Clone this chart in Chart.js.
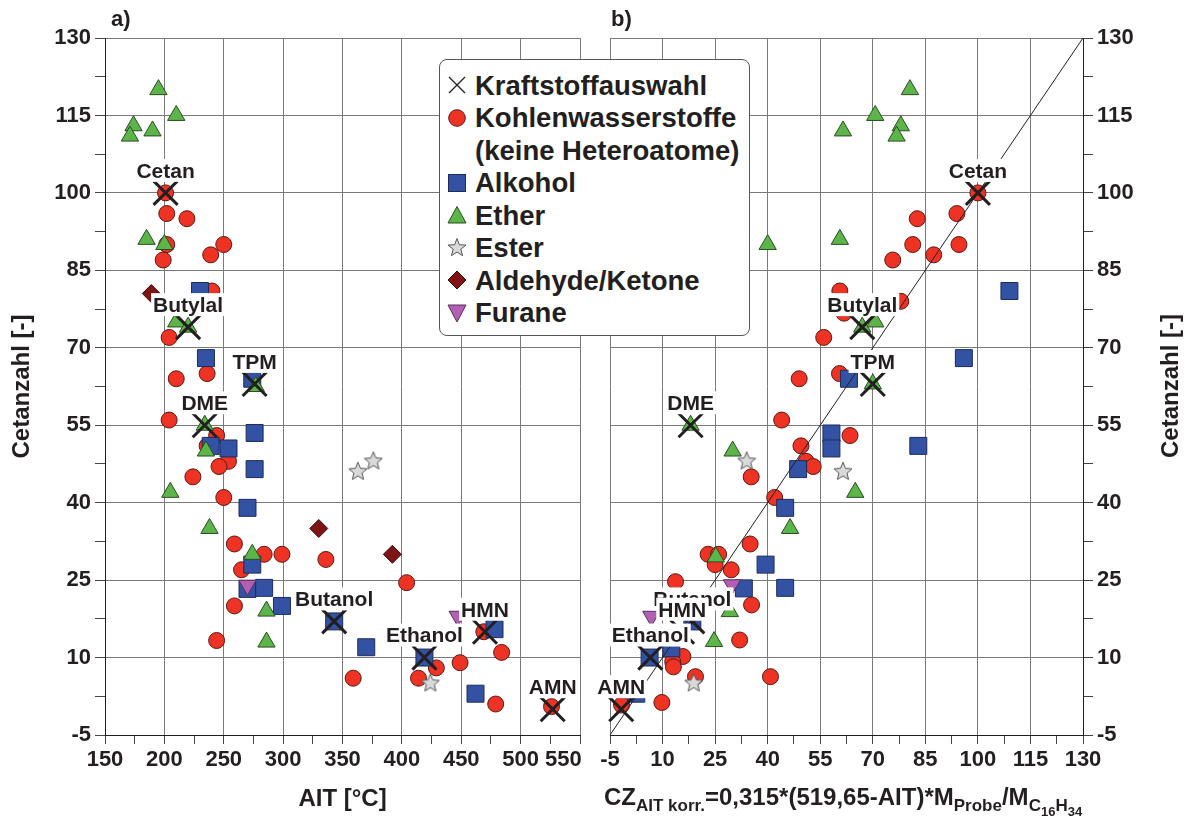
<!DOCTYPE html>
<html>
<head>
<meta charset="utf-8">
<script src="https://cdn.jsdelivr.net/npm/chart.js@4.4.1/dist/chart.umd.min.js"></script>
<style>
  html, body { margin: 0; padding: 0; background: #fff; }
  body { width: 1189px; height: 818px; position: relative; overflow: hidden;
         font-family: "Liberation Sans", Arial, sans-serif; color: #231f20; }
  canvas { position: absolute; top: 0; }
  #cvA { left: 0; }
  #cvB { left: 590px; }
  .panel { position: absolute; top: 6px; font-weight: bold; font-size: 22px; }
  #legend { position: absolute; left: 439px; top: 59px; width: 311px; height: 277px; box-sizing: border-box;
            border: 1px solid #555; border-radius: 8px; background: #fff; padding-top: 9px; }
  .li { display: flex; align-items: center; height: 32.5px; font-weight: bold; font-size: 27.5px;
        line-height: 1; white-space: nowrap; }
  .li svg { width: 22px; height: 22px; margin: 0 7px 0 6px; flex: none; }
  .li.cont { padding-left: 35px; }
  #xtitleB { position: absolute; left: 604px; top: 784px; font-weight: bold; font-size: 24px;
             line-height: 26px; white-space: nowrap; }
  #xtitleB sub { font-size: 17px; vertical-align: -6px; }
  #xtitleB sub sub { font-size: 13px; vertical-align: -5px; }
  #ytitleB { position: absolute; left: 1170px; top: 386px; font-weight: bold; font-size: 24px;
             white-space: nowrap; transform: translate(-50%, -50%) rotate(-90deg); }
</style>
</head>
<body>
<canvas id="cvA" width="600" height="818"></canvas>
<canvas id="cvB" width="599" height="818"></canvas>
<div class="panel" style="left:111px">a)</div>
<div class="panel" style="left:611px">b)</div>
<div id="ytitleB">Cetanzahl [-]</div>
<div id="xtitleB">CZ<sub>AIT korr.</sub>=0,315*(519,65-AIT)*M<sub>Probe</sub>/M<sub>C<sub>16</sub>H<sub>34</sub></sub></div>

<div id="legend">
  <div class="li"><svg viewBox="0 0 22 22"><path d="M3 3L19 19M19 3L3 19" stroke="#231f20" stroke-width="1.3"/></svg>Kraftstoffauswahl</div>
  <div class="li"><svg viewBox="0 0 22 22"><circle cx="11" cy="11" r="8.3" fill="#ee3224" stroke="#5a1a14"/></svg>Kohlenwasserstoffe</div>
  <div class="li cont">(keine Heteroatome)</div>
  <div class="li"><svg viewBox="0 0 22 22"><rect x="2.5" y="2.5" width="17" height="17" fill="#3352a4" stroke="#1e2c5a"/></svg>Alkohol</div>
  <div class="li"><svg viewBox="0 0 22 22"><polygon points="11,2.5 20,19 2,19" fill="#5cb548" stroke="#2a4d22"/></svg>Ether</div>
  <div class="li"><svg viewBox="0 0 22 22"><polygon points="11,1.5 13.35,7.76 20.04,8.06 14.8,12.24 16.58,18.69 11,15 5.42,18.69 7.2,12.24 1.96,8.06 8.65,7.76" fill="#d9d9d9" stroke="#555"/></svg>Ester</div>
  <div class="li"><svg viewBox="0 0 22 22"><polygon points="11,2 20,11 11,20 2,11" fill="#7d1416" stroke="#3d0a0a"/></svg>Aldehyde/Ketone</div>
  <div class="li"><svg viewBox="0 0 22 22"><polygon points="2,3 20,3 11,20" fill="#b35fb3" stroke="#5a2e5a"/></svg>Furane</div>
</div>

<script>
// ---- ticks ----
const aitTicks = [150, 200, 250, 300, 350, 400, 450, 500, 550];
const czTicks = [-5, 10, 25, 40, 55, 70, 85, 100, 115, 130];

// ---- Kraftstoffauswahl (labelled fuels) ----
const selNames = ['Cetan', 'Butylal', 'TPM', 'DME', 'Butanol', 'Ethanol', 'HMN', 'AMN'];
const selAit   = [201, 220, 276, 234, 343, 419, 470, 527];
const selCz    = [100, 74, 63, 55, 17, 10, 15, 0];
const selKorr  = [100, 67, 70, 18, 18.5, 6.5, 15.6, -1.8];

// ---- a) AIT vs. Cetanzahl ----
const kwAit = [201, 202, 219, 202, 199, 250, 239, 240, 204, 210, 236, 204, 244, 236, 254, 246, 224, 250,
               259, 284, 299, 265, 336, 404, 259, 244, 359, 429, 414, 449, 469, 484, 479, 526];
const kwCz  = [100, 96, 95, 90, 87, 90, 88, 81, 72, 64, 65, 56, 53, 51, 48, 47, 45, 41,
               32, 30, 30, 27, 29, 24.5, 20, 13.3, 6, 8, 6, 9, 15, 11, 1, 0.5];
const alkAit = [230, 235, 274, 276, 239, 254, 276, 270, 274, 270, 284, 299, 343, 370, 419, 478, 462];
const alkCz  = [81, 68, 64, 53.5, 51, 50.5, 46.5, 39, 28, 23.3, 23.5, 20, 17, 12, 10, 15.5, 3];
const etherAit = [195, 210, 174, 190, 171, 185, 200, 210, 220, 277, 234, 235, 205, 238, 274, 286, 286];
const etherCz  = [120, 115, 113, 112, 111, 91, 90, 75, 74, 62.5, 55, 50, 42, 35, 30, 19, 13];
const esterAit = [363, 376, 424];
const esterCz  = [46, 48, 5];
const aldAit = [189, 330, 392];
const aldCz  = [80.5, 35, 30];
const furAit = [270, 447];
const furCz  = [24, 18];

// ---- b) korrigierte CZ vs. Cetanzahl ----
const kwKorr   = [100, 94, 82.7, 81.4, 94.6, 87.4, 75.7, 60.6, 78, 61.8, 56, 60.5, 49, 44, 63.5, 49.5, 51, 53,
                  35.3, 42, 35, 23, 26, 29.6, 13.7, 35.4, 32, 40.8, 19.4, 9.8, 15.8, 12.9, 13.1, -1.7, 25];
const kwCzKorr = [100, 96, 95, 90, 90, 88, 87, 81, 79, 76.7, 72, 65, 64, 56, 53, 51, 48, 47,
                  45, 41, 32, 30, 30, 27, 24.7, 20.2, 13.4, 6.3, 6.3, 1.3, 10.2, 9.2, 8.2, 0.8, 28];
const alkKorr   = [109, 96, 63.2, 58.2, 58.2, 83, 48.7, 45, 39.4, 33.2, 45, 18.5, 12.5, 6.3, 2.5];
const alkCzKorr = [81, 68, 64, 53.4, 50.5, 51, 46.5, 39, 28, 23.4, 23.5, 17, 11.8, 10, 3];
const etherKorr   = [80.6, 70.7, 61.5, 78, 76.8, 40, 60.6, 70.7, 67, 70, 18, 30, 65, 46.4, 25.2, 29.2, 24.7];
const etherCzKorr = [120, 115, 112, 113, 111, 90, 91, 75, 74, 63, 55, 50, 42, 35, 29.5, 18.9, 13.1];
const esterKorr   = [34, 61.5, 18.9];
const esterCzKorr = [48, 46, 5];
const furKorr   = [29.8, 6.8];
const furCzKorr = [24.1, 18];
const diagKorr = [-5, 130];   // Winkelhalbierende CZ = CZ_korr
const diagCz   = [-5, 130];

const INK = '#231f20';
const GRID = '#7a7a7a';
Chart.defaults.font.family = '"Liberation Sans", Arial, sans-serif';
Chart.defaults.color = INK;

function pts(xs, ys) { return xs.map(function (x, i) { return { x: x, y: ys[i] }; }); }

// major ticks plus the unlabeled midpoints
function withMinor(majors) {
  var out = [];
  majors.forEach(function (v, i) {
    out.push(v);
    if (i < majors.length - 1) out.push((v + majors[i + 1]) / 2);
  });
  return out;
}

function starImage(r, fill, stroke) {
  var c = document.createElement('canvas');
  var s = Math.ceil(r * 2 + 3);
  c.width = s; c.height = s;
  var g = c.getContext('2d');
  g.beginPath();
  for (var k = 0; k < 10; k++) {
    var rr = k % 2 ? r * 0.45 : r;
    var a = -Math.PI / 2 + k * Math.PI / 5;
    g.lineTo(s / 2 + rr * Math.cos(a), s / 2 + rr * Math.sin(a));
  }
  g.closePath();
  g.fillStyle = fill; g.fill();
  g.lineWidth = 1; g.strokeStyle = stroke; g.stroke();
  return c;
}
var starPt = starImage(9.5, '#d9d9d9', '#555');

function series(label, data, style, order) {
  return Object.assign({ label: label, data: data, order: order, clip: false, pointBorderWidth: 1 }, style);
}
var sSel   = { pointStyle: 'crossRot', pointRadius: 17, pointBorderWidth: 3, pointBorderColor: INK, pointBackgroundColor: INK };
var sKw    = { pointStyle: 'circle', pointRadius: 8, pointBackgroundColor: '#ee3224', pointBorderColor: '#5a1a14' };
var sAlk   = { pointStyle: 'rect', pointRadius: 12, pointBackgroundColor: '#3352a4', pointBorderColor: '#1e2c5a' };
var sEther = { pointStyle: 'triangle', pointRadius: 10, pointBackgroundColor: '#5cb548', pointBorderColor: '#2a4d22' };
var sEster = { pointStyle: starPt };
var sAld   = { pointStyle: 'rectRot', pointRadius: 9, pointBackgroundColor: '#7d1416', pointBorderColor: '#3d0a0a' };
var sFur   = { pointStyle: 'triangle', rotation: 180, pointRadius: 10, pointBackgroundColor: '#b35fb3', pointBorderColor: '#5a2e5a' };

// labels with white box above the selected fuels
var selLabels = {
  id: 'selLabels',
  afterDatasetsDraw: function (chart) {
    var meta = chart.getDatasetMeta(0), ctx = chart.ctx;
    ctx.save();
    ctx.font = 'bold 21px "Liberation Sans", Arial, sans-serif';
    ctx.textAlign = 'center';
    ctx.textBaseline = 'middle';
    meta.data.forEach(function (pt, i) {
      var name = selNames[i], w = ctx.measureText(name).width;
      var cx = pt.x, cy = pt.y - 22;
      ctx.fillStyle = '#fff';
      ctx.fillRect(cx - w / 2 - 2, cy - 12, w + 4, 23);
      ctx.fillStyle = INK;
      ctx.fillText(name, cx, cy + 1);
    });
    ctx.restore();
  }
};

function isMajorOf(majors) {
  return function (c) { return c.tick && majors.indexOf(c.tick.value) >= 0 ? GRID : 'rgba(0,0,0,0)'; };
}

function xAxis(majors, titleText, shiftLast) {
  var last = majors[majors.length - 1];
  return {
    type: 'linear', position: 'bottom', min: majors[0], max: last,
    afterBuildTicks: function (s) { s.ticks = withMinor(majors).map(function (v) { return { value: v }; }); },
    afterFit: function (s) { s.height = 83; s.paddingLeft = 0; s.paddingRight = 0; },
    ticks: {
      autoSkip: false, maxRotation: 0, minRotation: 0, padding: 3, color: INK,
      font: { size: 22, weight: 'bold' },
      callback: function (v) {
        if (majors.indexOf(v) < 0) return '';
        // last label of panel a) is pushed left, clear of panel b)
        return shiftLast && v === last ? v + '\u2007\u2007\u2009\u2009' : String(v);
      }
    },
    grid: { color: isMajorOf(majors), tickColor: '#444', tickLength: 9, lineWidth: 1 },
    border: { color: INK, width: 1 },
    title: { display: !!titleText, text: titleText || '', color: INK, font: { size: 24, weight: 'bold' }, padding: { top: 0, bottom: 4 } }
  };
}

function yAxis(pos, showTitle, width) {
  return {
    type: 'linear', position: pos, min: czTicks[0], max: czTicks[czTicks.length - 1],
    afterBuildTicks: function (s) { s.ticks = withMinor(czTicks).map(function (v) { return { value: v }; }); },
    afterFit: function (s) { s.width = width; s.paddingTop = 0; s.paddingBottom = 0; },
    ticks: {
      autoSkip: false, padding: 4, color: INK, font: { size: 22, weight: 'bold' },
      callback: function (v) { return czTicks.indexOf(v) >= 0 ? String(v) : ''; }
    },
    grid: { color: isMajorOf(czTicks), tickColor: '#444', tickLength: 10, lineWidth: 1 },
    border: { color: INK, width: 1 },
    title: { display: showTitle, text: 'Cetanzahl [-]', color: INK, font: { size: 24, weight: 'bold' }, padding: { top: 8, bottom: 0 } }
  };
}

function baseOptions(padding, scales) {
  return {
    responsive: false, animation: false, events: [],
    layout: { padding: padding },
    plugins: { legend: { display: false }, tooltip: { enabled: false } },
    scales: scales
  };
}

new Chart(document.getElementById('cvA'), {
  type: 'scatter',
  data: {
    datasets: [
      series('Kraftstoffauswahl', pts(selAit, selCz), sSel, 0),
      series('Furane', pts(furAit, furCz), sFur, 2),
      series('Aldehyde/Ketone', pts(aldAit, aldCz), sAld, 3),
      series('Ester', pts(esterAit, esterCz), sEster, 4),
      series('Ether', pts(etherAit, etherCz), sEther, 5),
      series('Alkohol', pts(alkAit, alkCz), sAlk, 6),
      series('Kohlenwasserstoffe', pts(kwAit, kwCz), sKw, 7)
    ]
  },
  options: baseOptions({ left: 0, right: 16, top: 38, bottom: 0 }, {
    x: xAxis(aitTicks, 'AIT [°C]', true),
    y: yAxis('left', true, 105)
  }),
  plugins: [selLabels]
});

new Chart(document.getElementById('cvB'), {
  type: 'scatter',
  data: {
    datasets: [
      series('Kraftstoffauswahl', pts(selKorr, selCz), sSel, 0),
      { label: 'CZ = CZ korr', data: pts(diagKorr, diagCz), showLine: true, pointRadius: 0,
        borderColor: INK, borderWidth: 1, order: 1 },
      series('Furane', pts(furKorr, furCzKorr), sFur, 2),
      series('Ester', pts(esterKorr, esterCzKorr), sEster, 4),
      series('Ether', pts(etherKorr, etherCzKorr), sEther, 5),
      series('Alkohol', pts(alkKorr, alkCzKorr), sAlk, 6),
      series('Kohlenwasserstoffe', pts(kwKorr, kwCzKorr), sKw, 7)
    ]
  },
  options: baseOptions({ left: 16, right: 0, top: 38, bottom: 0 }, {
    x: xAxis(czTicks, '', false),
    y: yAxis('right', false, 106)
  }),
  plugins: [selLabels]
});
</script>
</body>
</html>
